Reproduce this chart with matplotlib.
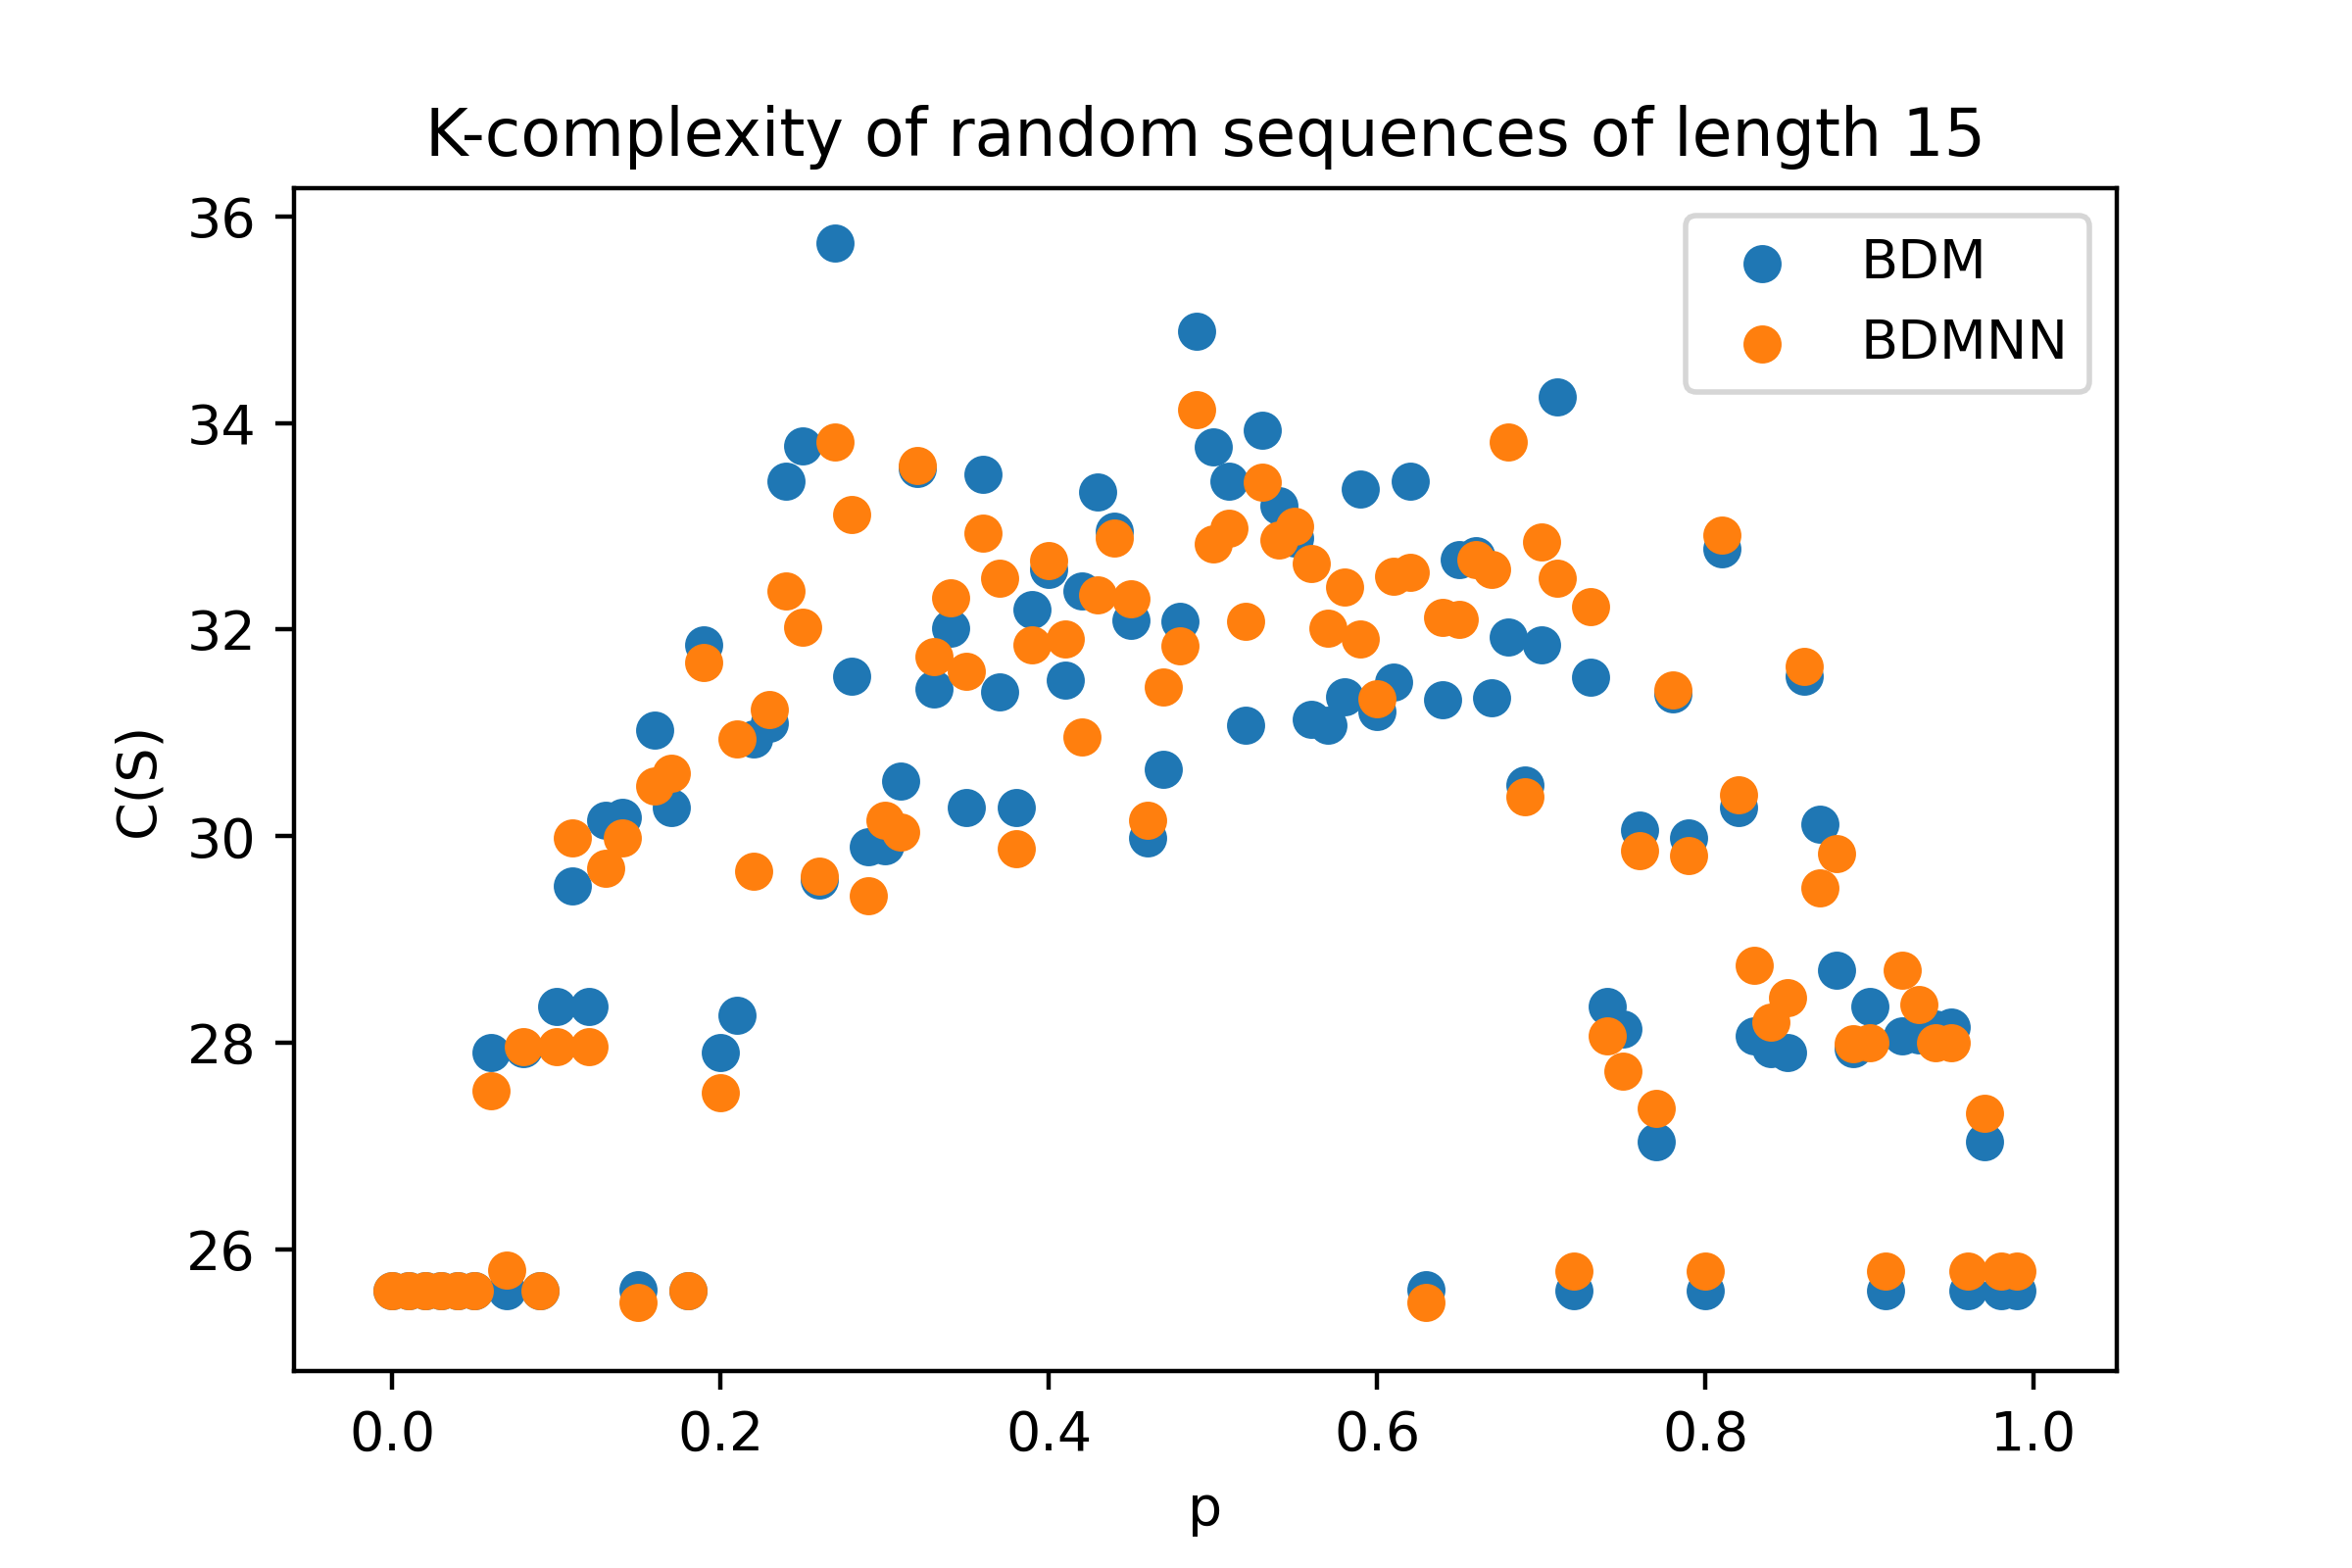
import numpy as np
import matplotlib
matplotlib.use("Agg")
import matplotlib.pyplot as plt

p = np.arange(100) / 100.0

bdm = [25.60, 25.60, 25.60, 25.60, 25.60, 25.60, 27.91, 25.60, 27.94, 25.60,
       28.35, 29.52, 28.35, 30.15, 30.18, 25.61, 31.03, 30.28, 25.60, 31.85,
       27.91, 28.27, 30.94, 31.09, 33.44, 33.78, 29.58, 35.74, 31.55, 29.90,
       29.91, 30.53, 33.56, 31.43, 32.01, 30.28, 33.50, 31.40, 30.28, 32.19,
       32.58, 31.51, 32.37, 33.33, 32.95, 32.09, 29.98, 30.65, 32.08, 34.89,
       33.77, 33.44, 31.07, 33.93, 33.20, 32.89, 31.13, 31.07, 31.35, 33.36,
       31.21, 31.49, 33.44, 25.61, 31.32, 32.68, 32.72, 31.34, 31.93, 30.50,
       31.85, 34.25, 25.60, 31.54, 28.35, 28.13, 30.06, 27.04, 31.38, 29.98,
       25.60, 32.78, 30.28, 28.07, 27.94, 27.91, 31.55, 30.12, 28.70, 27.94,
       28.35, 25.60, 28.07, 28.08, 28.13, 28.15, 25.60, 27.04, 25.60, 25.60]

bdmnn = [25.60, 25.60, 25.60, 25.60, 25.60, 25.60, 27.54, 25.80, 27.96, 25.60,
         27.96, 29.98, 27.96, 29.69, 29.98, 25.49, 30.49, 30.61, 25.60, 31.68,
         27.52, 30.94, 29.66, 31.23, 32.37, 32.02, 29.61, 33.82, 33.11, 29.42,
         30.15, 30.04, 33.59, 31.74, 32.31, 31.60, 32.93, 32.50, 29.88, 31.85,
         32.67, 31.91, 30.96, 32.34, 32.89, 32.30, 30.15, 31.44, 31.84, 34.13,
         32.83, 32.98, 32.08, 33.43, 32.87, 33.00, 32.64, 32.01, 32.41, 31.91,
         31.33, 32.52, 32.55, 25.49, 32.12, 32.10, 32.68, 32.58, 33.82, 30.38,
         32.85, 32.50, 25.79, 32.22, 28.07, 27.73, 29.86, 27.37, 31.42, 29.81,
         25.79, 32.91, 30.40, 28.75, 28.20, 28.44, 31.64, 29.50, 29.83, 27.99,
         28.00, 25.79, 28.70, 28.37, 28.00, 28.00, 25.79, 27.32, 25.79, 25.79]

fig = plt.figure(figsize=(6, 4), dpi=400)
ax = fig.add_subplot(111)
fig.subplots_adjust(left=0.125, right=0.9, top=0.88, bottom=0.1256)

ax.scatter(p, bdm, label="BDM")
ax.scatter(p, bdmnn, label="BDMNN")

ax.set_xlim(-0.0597, 1.0507)
ax.set_ylim(24.824, 36.272)
ax.set_xticks([0.0, 0.2, 0.4, 0.6, 0.8, 1.0])
ax.set_yticks([26, 28, 30, 32, 34, 36])

ax.set_title("K-complexity of random sequences of length 15")
ax.set_xlabel("p")
ax.set_ylabel("C(S)")
ax.legend(loc="upper right")

fig.savefig("out.png", dpi=400)
